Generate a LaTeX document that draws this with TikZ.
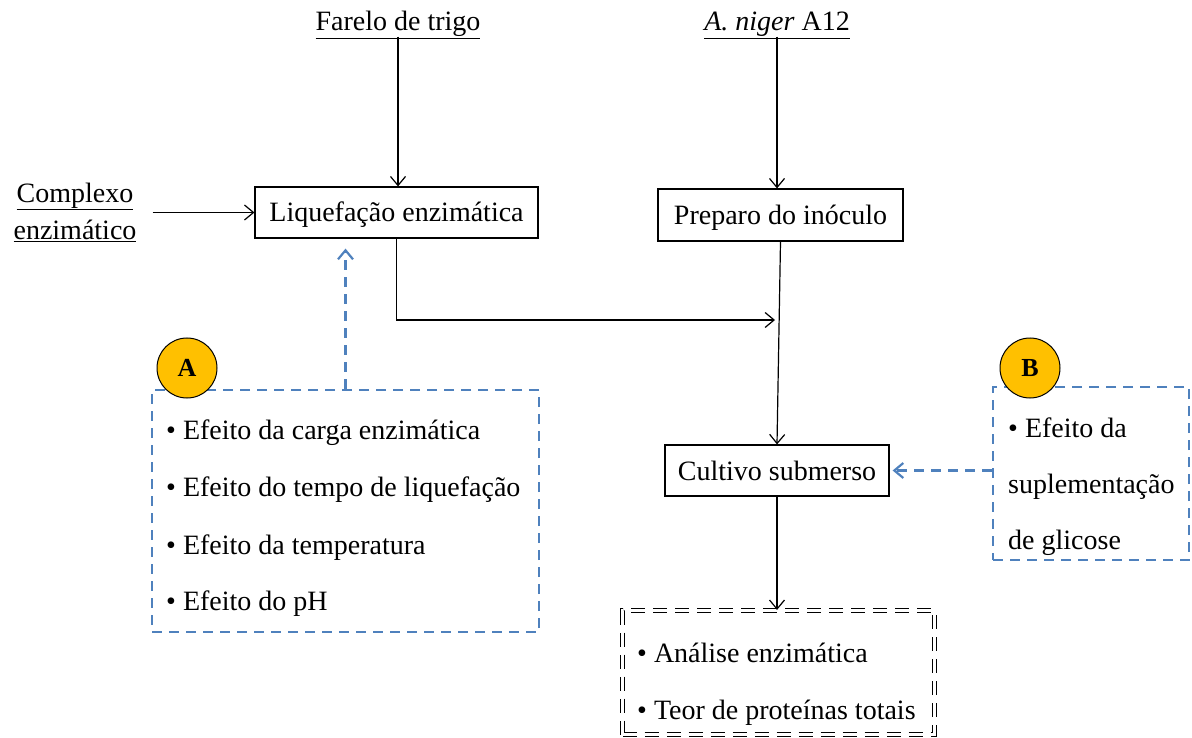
\documentclass[tikz,border=0pt]{standalone}
\usepackage{fontspec}
\setmainfont{Liberation Serif}
\usetikzlibrary{arrows.meta}
\definecolor{dblue}{HTML}{4F81BD}
\definecolor{gold}{HTML}{FFC000}
\begin{document}
\begin{tikzpicture}[x=1pt,y=-1pt,
  font=\fontsize{28}{32}\selectfont,
  box/.style={draw, line width=1.2pt, inner sep=0pt, text height=25pt, text depth=6pt},
  txt/.style={inner sep=0pt, text height=21pt, text depth=6pt},
  arr/.style={line width=1.2pt, -{Straight Barb[length=9pt,width=15pt,line width=1.2pt]}},
  barr/.style={dblue, line width=2.2pt, dash pattern=on 10pt off 7pt, -{Straight Barb[length=9pt,width=15pt,line width=2.2pt]}},
  bbox/.style={draw=dblue, line width=2.2pt, dash pattern=on 10pt off 7pt, inner sep=0pt},
  badge/.style={circle, draw=black, line width=1pt, fill=gold, minimum size=60pt, inner sep=0pt, font=\fontsize{26}{30}\selectfont\bfseries}
]
\useasboundingbox (0,0) rectangle (1192,738);

% sources
\node[txt] (farelo) at (398,23) {\underline{Farelo de trigo}};
\node[txt] (aniger) at (777,23) {\underline{\textit{A. niger} A12}};
\node[inner sep=0pt, align=center, font=\fontsize{28}{37}\selectfont] (complexo) at (75,212) {\underline{Complexo}\\\underline{enzimático}};

% process boxes
\node[box, minimum width=283pt, minimum height=51pt] (liq) at (396.5,212.5) {Liquefação enzimática};
\node[box, minimum width=245pt, minimum height=52pt] (prep) at (780.5,215) {Preparo do inóculo};
\node[box, minimum width=224pt, minimum height=51pt] (cult) at (777,470.5) {Cultivo submerso};

% result box
\node[draw, line width=1.1pt, double, double distance=2.5pt, dash pattern=on 14pt off 8pt, minimum width=312pt, minimum height=124pt, inner sep=0pt] (res) at (778.5,672.5) {};
\node[txt, anchor=west] (r1) at (637,655) {• Análise enzimática};
\node[txt, anchor=west] (r2) at (637,712) {• Teor de proteínas totais};

% box A
\node[bbox, minimum width=387pt, minimum height=242pt] (boxA) at (345.5,511) {};
\node[txt, anchor=west] (a1) at (166,432) {• Efeito da carga enzimática};
\node[txt, anchor=west] (a2) at (166,489) {• Efeito do tempo de liquefação};
\node[txt, anchor=west] (a3) at (166,547) {• Efeito da temperatura};
\node[txt, anchor=west] (a4) at (166,603) {• Efeito do pH};
\node[badge] (cA) at (187,368) {A};

% box B
\node[bbox, minimum width=196pt, minimum height=173pt] (boxB) at (1091,473.5) {};
\node[txt, anchor=west] (b1) at (1008,430) {• Efeito da};
\node[txt, anchor=west] (b2) at (1008,486) {suplementação};
\node[txt, anchor=west] (b3) at (1008,542) {de glicose};
\node[badge] (cB) at (1030,368) {B};

% connectors
\coordinate (j) at (775,320);
\draw[arr] (farelo.south) -- (farelo.south |- liq.north);
\draw[arr] (aniger.south) -- (aniger.south |- prep.north);
\draw[arr, shorten <=16pt] (complexo.east |- liq.west) -- (liq.west);
\draw[arr] (liq.south) |- (j);
\draw[arr] (prep.south) -- (cult.north);
\draw[arr] (cult.south) -- (cult.south |- res.north);
\draw[barr, shorten >=10pt] (boxA.north) -- (boxA.north |- liq.south);
\draw[barr, shorten >=3pt] (boxB.west |- cult.east) -- (cult.east);
\end{tikzpicture}
\end{document}
